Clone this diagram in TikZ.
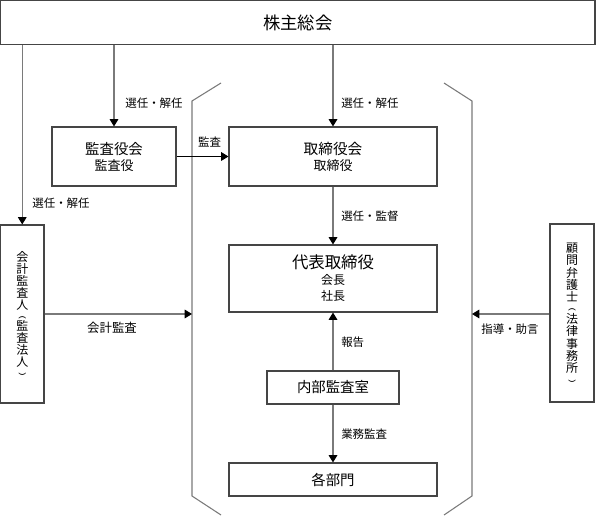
\documentclass[tikz,border=0pt]{standalone}
\usepackage{fontspec}
\setmainfont{Noto Sans CJK JP}
\usetikzlibrary{arrows.meta}
\definecolor{boxline}{HTML}{454545}
\definecolor{conline}{HTML}{7A7A7A}
\newcommand{\vopen}{\rotatebox[origin=c]{-90}{\scalebox{1}[0.6]{(}}}
\newcommand{\vclose}{\rotatebox[origin=c]{-90}{\scalebox{1}[0.6]{)}}}
\tikzset{
  box/.style={draw=boxline, line width=0.8pt, inner sep=0pt, align=center, anchor=center},
  con/.style={draw=conline, line width=0.8pt, -{Triangle[length=5.5pt,width=6.5pt,color=black]}},
  bracket/.style={draw=conline, line width=0.8pt},
  lbl/.style={inner sep=0pt, font=\fontsize{8.6}{10}\selectfont},
}
\begin{document}
\begin{tikzpicture}[x=0.75pt, y=-0.75pt]
\useasboundingbox (0,0) rectangle (596,516);
% boxes
\node[box, minimum width=594.5*0.75pt, minimum height=44*0.75pt, font=\fontsize{13}{15}\selectfont] (top) at (297.75,22.5) {株主総会};
\node[box, minimum width=124*0.75pt, minimum height=59*0.75pt] (kansa) at (114,156.5)
  {\fontsize{10.8}{13.5}\selectfont 監査役会\\ {\fontsize{9.75}{13.5}\selectfont 監査役}};
\node[box, minimum width=208*0.75pt, minimum height=59*0.75pt] (tori) at (333,156.5)
  {\fontsize{11}{13.5}\selectfont 取締役会\\ {\fontsize{9.75}{13.5}\selectfont 取締役}};
\node[box, minimum width=208*0.75pt, minimum height=67*0.75pt] (daihyo) at (333,278.5)
  {\fontsize{12.3}{12}\selectfont 代表取締役\\ {\fontsize{9}{11.5}\selectfont 会長}\\ {\fontsize{9}{11.5}\selectfont 社長}};
\node[box, minimum width=132*0.75pt, minimum height=33*0.75pt, font=\fontsize{10.8}{13}\selectfont] (naibu) at (333,387.5) {内部監査室};
\node[box, minimum width=208*0.75pt, minimum height=33*0.75pt, font=\fontsize{10.8}{13}\selectfont] (kaku) at (333,479.5) {各部門};
\node[box, minimum width=43.5*0.75pt, minimum height=178*0.75pt, font=\fontsize{9}{9}\selectfont] (kaikei) at (22.25,314)
  {会\\計\\監\\査\\人\\[-1.5pt]\vopen\\[-1pt]監\\査\\法\\人\\[-1.5pt]\vclose};
\node[box, minimum width=44*0.75pt, minimum height=178*0.75pt, font=\fontsize{9}{9.3}\selectfont] (komon) at (572,313)
  {顧\\問\\弁\\護\\士\\[-1.5pt]\vopen\\[-1pt]法\\律\\事\\務\\所\\[-1.5pt]\vclose};
% brackets
\coordinate (lbt) at (221,83); \coordinate (lbc) at (192,101);
\coordinate (lbd) at (192,496); \coordinate (lbb) at (221,515);
\coordinate (rbt) at (444,83); \coordinate (rbc) at (472,101);
\coordinate (rbd) at (472,496); \coordinate (rbb) at (444,515);
\draw[bracket] (lbt) -- (lbc) -- (lbd) -- (lbb);
\draw[bracket] (rbt) -- (rbc) -- (rbd) -- (rbb);
\coordinate (lhit) at (192,314);
\coordinate (rhit) at (472,314);
% connectors
\draw[con] (top.south -| kaikei.north) -- (kaikei.north);
\draw[con] (top.south -| kansa.north) -- (kansa.north);
\draw[con] (top.south -| tori.north) -- (tori.north);
\draw[con, draw=black] (kansa.east) -- (tori.west);
\draw[con] (tori.south) -- (daihyo.north);
\draw[con] (naibu.north) -- (daihyo.south);
\draw[con] (naibu.south) -- (kaku.north);
\draw[con] (kaikei.east |- lhit) -- (lhit);
\draw[con] (komon.west |- rhit) -- (rhit);
% labels
\node[lbl] (l1) at (154,103) {選任・解任};
\node[lbl, anchor=west] (l2) at (341,103) {選任・解任};
\node[lbl] (l3) at (209.5,142.5) {監査};
\node[lbl] (l4) at (61,203) {選任・解任};
\node[lbl, anchor=west] (l5) at (341,216) {選任・監督};
\node[lbl, font=\fontsize{9.3}{11}\selectfont] (l6) at (112,328) {会計監査};
\node[lbl, anchor=west] (l7) at (341,342) {報告};
\node[lbl, anchor=west] (l8) at (341,434) {業務監査};
\node[lbl] (l9) at (510,329) {指導・助言};
\end{tikzpicture}
\end{document}
